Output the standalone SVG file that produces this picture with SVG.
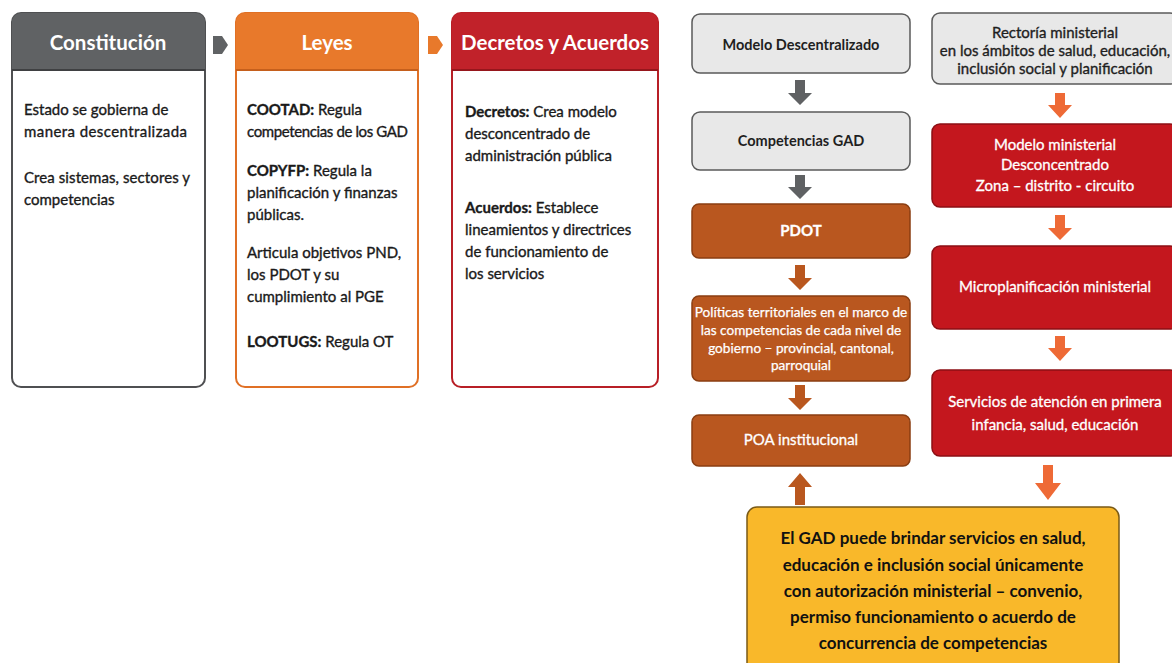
<svg xmlns="http://www.w3.org/2000/svg" width="1172" height="663" viewBox="0 0 1172 663">
<style>
text{font-family:Lato,"Open Sans","Liberation Sans",sans-serif;}
.hd{font-size:20.5px;font-weight:bold;fill:#fff;text-anchor:middle;}
.bd{font-size:15px;fill:#1a1a1a;stroke:#1a1a1a;stroke-width:0.35;}
.b{font-weight:bold;}
.ct{font-size:14.5px;font-weight:bold;fill:#1f1f1f;text-anchor:middle;}
.rt{font-size:15px;fill:#1f1f1f;stroke:#1f1f1f;stroke-width:0.35;text-anchor:middle;}
.wt{font-size:15px;fill:#fff;stroke:#fff;stroke-width:0.3;text-anchor:middle;}
.pt{font-size:13.6px;fill:#fff;stroke:#fff;stroke-width:0.25;text-anchor:middle;}
.yt{font-size:17px;font-weight:bold;fill:#111;text-anchor:middle;}
.gbox{fill:#e8e8e8;stroke:#5a5a5a;stroke-width:1.5;}
.obox{fill:#b9571f;stroke:#8a3e12;stroke-width:1.5;}
.rbox{fill:#c4171e;stroke:#8c0f14;stroke-width:1.5;}
</style>
<rect width="1172" height="663" fill="#ffffff"/>

<g id="constitucion">
<rect x="12" y="13" width="193" height="374" rx="9" fill="#fff" stroke="#4f5052" stroke-width="2"/>
<path d="M21,13 H196 A9,9 0 0 1 205,22 V70 H12 V22 A9,9 0 0 1 21,13 Z" fill="#606264"/>
<line x1="12" y1="70" x2="205" y2="70" stroke="#3f4042" stroke-width="2"/>
<text class="hd" x="108" y="50">Constitución</text>
<text class="bd" x="24" y="115">Estado se gobierna de</text>
<text class="bd" x="24" y="137" textLength="163">manera descentralizada</text>
<text class="bd" x="24" y="183" textLength="166">Crea sistemas, sectores y</text>
<text class="bd" x="24" y="205">competencias</text>
</g>

<g id="leyes">
<rect x="236" y="13" width="182" height="374" rx="9" fill="#fff" stroke="#e07025" stroke-width="2"/>
<path d="M245,13 H409 A9,9 0 0 1 418,22 V70 H236 V22 A9,9 0 0 1 245,13 Z" fill="#e8792b"/>
<line x1="236" y1="70" x2="418" y2="70" stroke="#c55f1c" stroke-width="2"/>
<text class="hd" x="327" y="50">Leyes</text>
<text class="bd" x="247" y="115"><tspan class="b">COOTAD:</tspan> Regula</text>
<text class="bd" x="247" y="137" textLength="161">competencias de los GAD</text>
<text class="bd" x="247" y="176"><tspan class="b">COPYFP:</tspan> Regula la</text>
<text class="bd" x="247" y="198">planificación y finanzas</text>
<text class="bd" x="247" y="220">públicas.</text>
<text class="bd" x="247" y="258">Articula objetivos PND,</text>
<text class="bd" x="247" y="280">los PDOT y su</text>
<text class="bd" x="247" y="302">cumplimiento al PGE</text>
<text class="bd" x="247" y="347"><tspan class="b">LOOTUGS:</tspan> Regula OT</text>
</g>

<g id="decretos">
<rect x="452" y="13" width="206" height="374" rx="9" fill="#fff" stroke="#b81f26" stroke-width="2"/>
<path d="M461,13 H649 A9,9 0 0 1 658,22 V70 H452 V22 A9,9 0 0 1 461,13 Z" fill="#c1222a"/>
<line x1="452" y1="70" x2="658" y2="70" stroke="#96161c" stroke-width="2"/>
<text class="hd" x="555" y="50">Decretos y Acuerdos</text>
<text class="bd" x="465" y="117"><tspan class="b">Decretos:</tspan> Crea modelo</text>
<text class="bd" x="465" y="139">desconcentrado de</text>
<text class="bd" x="465" y="161">administración pública</text>
<text class="bd" x="465" y="213"><tspan class="b">Acuerdos:</tspan> Establece</text>
<text class="bd" x="465" y="235">lineamientos y directrices</text>
<text class="bd" x="465" y="257">de funcionamiento de</text>
<text class="bd" x="465" y="279">los servicios</text>
</g>

<g id="modelo-descentralizado">
<rect class="gbox" x="692" y="14" width="218" height="59" rx="8"/>
<text class="ct" x="801" y="50">Modelo Descentralizado</text>
</g>
<g id="competencias-gad">
<rect class="gbox" x="692" y="112" width="218" height="58" rx="8"/>
<text class="ct" x="801" y="146">Competencias GAD</text>
</g>
<g id="pdot">
<rect class="obox" x="692" y="204" width="218" height="54" rx="7"/>
<text class="wt b" x="801" y="236">PDOT</text>
</g>
<g id="politicas">
<rect class="obox" x="692" y="296" width="218" height="85" rx="7"/>
<text class="pt" x="801" y="317">Políticas territoriales en el marco de</text>
<text class="pt" x="801" y="335">las competencias de cada nivel de</text>
<text class="pt" x="801" y="353">gobierno – provincial, cantonal,</text>
<text class="pt" x="801" y="370">parroquial</text>
</g>
<g id="poa">
<rect class="obox" x="692" y="415" width="218" height="51" rx="7"/>
<text class="wt" x="801" y="445">POA institucional</text>
</g>

<g id="rectoria">
<rect class="gbox" x="932" y="13" width="246" height="71" rx="8"/>
<text class="rt" x="1055" y="38">Rectoría ministerial</text>
<text class="rt" x="1055" y="56">en los ámbitos de salud, educación,</text>
<text class="rt" x="1055" y="74">inclusión social y planificación</text>
</g>
<g id="modelo-ministerial">
<rect class="rbox" x="932" y="124" width="246" height="83" rx="8"/>
<text class="wt" x="1055" y="150">Modelo ministerial</text>
<text class="wt" x="1055" y="170">Desconcentrado</text>
<text class="wt" x="1055" y="191">Zona – distrito - circuito</text>
</g>
<g id="microplanificacion">
<rect class="rbox" x="932" y="246" width="246" height="83" rx="8"/>
<text class="wt" x="1055" y="292">Microplanificación ministerial</text>
</g>
<g id="servicios">
<rect class="rbox" x="932" y="370" width="246" height="86" rx="8"/>
<text class="wt" x="1055" y="407">Servicios de atención en primera</text>
<text class="wt" x="1055" y="430">infancia, salud, educación</text>
</g>

<g id="gad-servicios">
<rect x="747" y="507" width="372" height="170" rx="10" fill="#f9b82a" stroke="#7a5a16" stroke-width="1.5"/>
<text class="yt" x="933" y="544">El GAD puede brindar servicios en salud,</text>
<text class="yt" x="933" y="571">educación e inclusión social únicamente</text>
<text class="yt" x="933" y="597">con autorización ministerial – convenio,</text>
<text class="yt" x="933" y="623">permiso funcionamiento o acuerdo de</text>
<text class="yt" x="933" y="649">concurrencia de competencias</text>
</g>

<g id="connectors">
<polygon points="213,36 222,36 228,45 222,54 213,54" fill="#606264"/>
<polygon points="428,36 437,36 443,45 437,54 428,54" fill="#e8792b"/>
<polygon points="795,80 805,80 805,93 812,93 800,105 788,93 795,93" fill="#5f6163"/>
<polygon points="795,175 805,175 805,187 812,187 800,199 788,187 795,187" fill="#5f6163"/>
<polygon points="795,265 805,265 805,278 812,278 800,290 788,278 795,278" fill="#b9571f"/>
<polygon points="795,385 805,385 805,398 812,398 800,410 788,398 795,398" fill="#b9571f"/>
<polygon points="795,505 805,505 805,487 812,487 800,473 788,487 795,487" fill="#b9571f"/>
<polygon points="1055,93 1065,93 1065,105 1072,105 1060,118 1048,105 1055,105" fill="#ee6a36"/>
<polygon points="1055,215 1065,215 1065,228 1072,228 1060,240 1048,228 1055,228" fill="#ee6a36"/>
<polygon points="1055,336 1065,336 1065,348 1072,348 1060,361 1048,348 1055,348" fill="#ee6a36"/>
<polygon points="1043,465 1053,465 1053,483 1061,483 1048,500 1035,483 1043,483" fill="#ee6a36"/>
</g>
</svg>
